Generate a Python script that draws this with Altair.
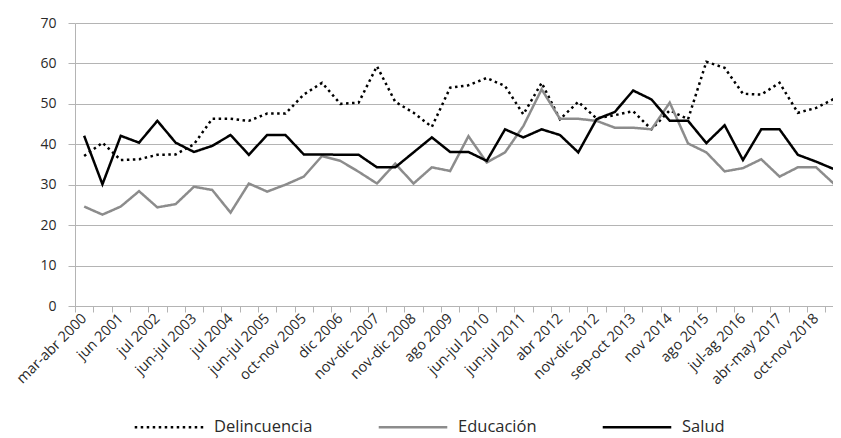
import json
import altair as alt
import pandas as pd

tick_labels = ["mar-abr 2000", "jun 2001", "jul 2002", "jun-jul 2003", "jul 2004",
               "jun-jul 2005", "oct-nov 2005", "dic 2006", "nov-dic 2007", "nov-dic 2008",
               "ago 2009", "jun-jul 2010", "jun-jul 2011", "abr 2012", "nov-dic 2012",
               "sep-oct 2013", "nov 2014", "ago 2015", "jul-ag 2016", "abr-may 2017",
               "oct-nov 2018"]

series_names = ["Delincuencia", "Educación", "Salud"]

delincuencia = [37.1, 40.4, 36.1, 36.3, 37.4, 37.5, 40.0, 46.3, 46.3, 45.8, 47.6, 47.6, 52.3, 55.2,
                50.0, 50.3, 59.3, 50.5, 47.8, 44.3, 54.0, 54.6, 56.4, 54.4, 47.4, 55.2, 46.2,
                50.5, 46.4, 47.2, 48.2, 43.7, 48.4, 46.2, 60.4, 58.9, 52.5, 52.3, 55.2, 47.8, 49.0, 51.3]
educacion = [24.6, 22.6, 24.6, 28.4, 24.4, 25.2, 29.5, 28.7, 23.1, 30.3, 28.3, 30.0, 32.0, 37.1,
             35.9, 33.2, 30.3, 35.2, 30.3, 34.3, 33.4, 42.0, 35.5, 38.0, 44.5, 53.6, 46.3,
             46.3, 45.8, 44.1, 44.1, 43.7, 50.3, 40.2, 38.0, 33.3, 34.1, 36.3, 32.0, 34.3, 34.3, 30.1]
salud = [42.1, 30.1, 42.1, 40.4, 45.8, 40.4, 38.1, 39.6, 42.3, 37.4, 42.3, 42.3, 37.5, 37.5,
         37.4, 37.4, 34.3, 34.3, 38.0, 41.7, 38.1, 38.1, 35.9, 43.7, 41.7, 43.7, 42.3,
         38.0, 46.2, 48.0, 53.3, 51.1, 45.8, 45.8, 40.3, 44.7, 36.1, 43.7, 43.7, 37.4, 35.7, 33.8]

rows = []
for name, vals in zip(series_names, [delincuencia, educacion, salud]):
    for i, v in enumerate(vals):
        rows.append({"idx": i, "serie": name, "valor": v})
df = pd.DataFrame(rows)

label_expr = "datum.value % 2 == 0 ? " + json.dumps(tick_labels, ensure_ascii=False) + "[datum.value / 2] : ''"

FONT = "Open Sans"
GRID = "#b4b4b4"
TEXT = "#2a2a2a"

legend = alt.Legend(
    title=None, orient="none", direction="horizontal", legendX=58, legendY=368,
    symbolType="stroke", symbolSize=4700, symbolStrokeWidth=2.5,
    labelFontSize=16.5, labelFont=FONT, labelColor=TEXT,
    columnPadding=60, labelOffset=9,
)

chart = alt.Chart(df).mark_line(strokeWidth=2.5).encode(
    x=alt.X("idx:O",
            scale=alt.Scale(type="band", paddingInner=0, paddingOuter=0, range=[0, 768.6]),
            axis=alt.Axis(title=None, labelExpr=label_expr, labelAngle=-45,
                          labelAlign="right", labelBaseline="middle",
                          tickBand="extent", tickSize=6, tickColor=GRID,
                          domainColor=GRID, labelFontSize=14.5, labelFont=FONT,
                          labelColor=TEXT, labelPadding=4, grid=False,
                          labelOverlap=False)),
    y=alt.Y("valor:Q",
            scale=alt.Scale(domain=[0, 70], nice=False),
            axis=alt.Axis(title=None, values=list(range(0, 71, 10)), tickSize=7,
                          tickColor=GRID, domainColor=GRID, gridColor=GRID,
                          labelFontSize=14, labelFont=FONT, labelColor=TEXT,
                          labelPadding=12)),
    color=alt.Color("serie:N",
                    scale=alt.Scale(domain=series_names, range=["#000000", "#8c8c8c", "#000000"]),
                    legend=legend),
    strokeDash=alt.StrokeDash("serie:N",
                              scale=alt.Scale(domain=series_names, range=[[2.5, 3.5], [1, 0], [1, 0]]),
                              legend=legend),
).properties(
    width=758, height=283,
    padding={"left": 67, "top": 15, "right": 0, "bottom": 132},
    autosize=alt.AutoSizeParams(type="none"),
).configure_view(stroke=None)

chart.save("out.html", embed_options={"renderer": "svg", "actions": False})
